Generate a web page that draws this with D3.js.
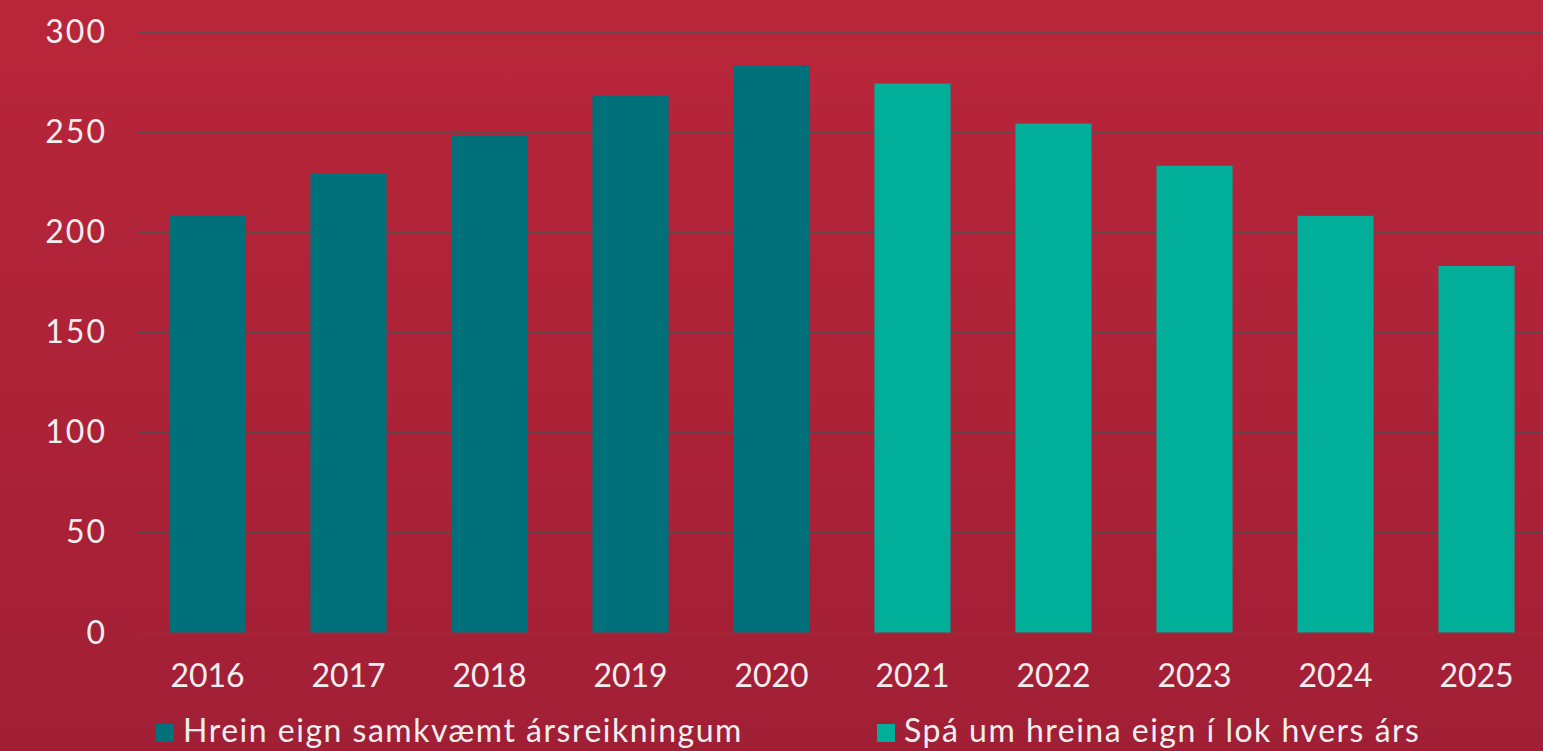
<!DOCTYPE html>
<html>
<head>
<meta charset="utf-8">
<script src="https://cdn.jsdelivr.net/npm/d3@7"></script>
<style>
  html, body { margin: 0; padding: 0; overflow: hidden; }
  svg { display: block; }
  text { font-family: Lato, "Open Sans", sans-serif; fill: #f2eef0; }
</style>
</head>
<body>
<div id="chart"></div>
<script>
const years = ["2016", "2017", "2018", "2019", "2020", "2021", "2022", "2023", "2024", "2025"];
const values = [208, 229, 248, 268, 283, 274, 254, 233, 208, 183];
const seriesOf = [0, 0, 0, 0, 0, 1, 1, 1, 1, 1];
const seriesNames = ["Hrein eign samkvæmt ársreikningum", "Spá um hreina eign í lok hvers árs"];
const seriesColors = ["#00717a", "#00ae9a"];
const yTicks = [0, 50, 100, 150, 200, 250, 300];

const width = 1543, height = 751;
const margin = {top: 31.5, right: -4, bottom: 118.5, left: 137};

const svg = d3.select("#chart").append("svg")
    .attr("width", width)
    .attr("height", height);

const grad = svg.append("defs").append("linearGradient")
    .attr("id", "bg").attr("x1", 0).attr("y1", 0).attr("x2", 0).attr("y2", 1);
grad.append("stop").attr("offset", "0%").attr("stop-color", "#b9263a");
grad.append("stop").attr("offset", "100%").attr("stop-color", "#a11f35");

svg.append("rect").attr("width", width).attr("height", height).attr("fill", "url(#bg)");

const x = d3.scaleBand()
    .domain(years)
    .range([margin.left, width - margin.right])
    .paddingInner(0.46)
    .paddingOuter(0.23);

const y = d3.scaleLinear()
    .domain([0, 300])
    .range([height - margin.bottom, margin.top]);

// gridlines
svg.append("g")
  .selectAll("line")
  .data(yTicks)
  .enter().append("line")
    .attr("x1", margin.left)
    .attr("x2", width)
    .attr("y1", d => Math.round(y(d)) + 0.5)
    .attr("y2", d => Math.round(y(d)) + 0.5)
    .attr("stroke", "#5c4a4f")
    .attr("stroke-opacity", 0.85)
    .attr("stroke-width", 1);

// y tick labels
svg.append("g")
  .selectAll("text")
  .data(yTicks)
  .enter().append("text")
    .attr("x", 107)
    .attr("y", d => y(d) + 11)
    .attr("text-anchor", "end")
    .attr("font-size", 32)
    .attr("letter-spacing", 2)
    .text(d => d);

// bars
svg.append("g")
  .selectAll("rect")
  .data(years)
  .enter().append("rect")
    .attr("x", d => x(d))
    .attr("width", x.bandwidth())
    .attr("y", (d, i) => y(values[i]))
    .attr("height", (d, i) => y(0) - y(values[i]))
    .attr("fill", (d, i) => seriesColors[seriesOf[i]]);

// x labels
svg.append("g")
  .selectAll("text")
  .data(years)
  .enter().append("text")
    .attr("x", d => x(d) + x.bandwidth() / 2)
    .attr("y", 687)
    .attr("text-anchor", "middle")
    .attr("font-size", 32)
    .text(d => d);

// legend
const legendX = [156, 877];
const legend = svg.append("g")
  .selectAll("g")
  .data(seriesNames)
  .enter().append("g")
    .attr("transform", (d, i) => "translate(" + legendX[i] + ",724)");
legend.append("rect")
    .attr("width", 18)
    .attr("height", 18)
    .attr("fill", (d, i) => seriesColors[i]);
legend.append("text")
    .attr("x", 27)
    .attr("y", 18)
    .attr("font-size", 32)
    .attr("letter-spacing", 1.5)
    .text(d => d);
</script>
</body>
</html>
